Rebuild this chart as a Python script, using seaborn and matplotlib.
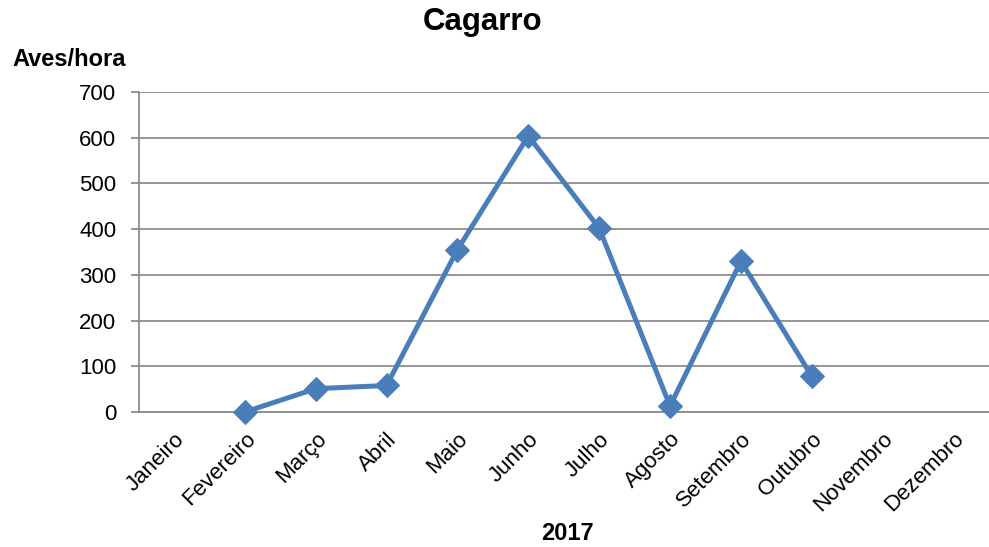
import numpy as np
import pandas as pd
import matplotlib
matplotlib.use("Agg")
import matplotlib.pyplot as plt
import seaborn as sns

months = ["Janeiro", "Fevereiro", "Março", "Abril", "Maio", "Junho",
          "Julho", "Agosto", "Setembro", "Outubro", "Novembro", "Dezembro"]
values = [np.nan, 0, 51, 58, 355, 604, 402, 13, 330, 78, np.nan, np.nan]
yticks = [0, 100, 200, 300, 400, 500, 600, 700]

sns.set_style("white")
plt.rcParams['font.family'] = ['Liberation Sans', 'DejaVu Sans']
plt.rcParams['text.color'] = 'black'
plt.rcParams['xtick.color'] = 'black'
plt.rcParams['ytick.color'] = 'black'

W, H = 989, 547
fig = plt.figure(figsize=(W / 100, H / 100), dpi=100)
ax = fig.add_axes([138.5 / W, 1 - 412 / H, (989 - 138.5) / W, (412 - 92) / H])

df = pd.DataFrame({"pos": np.arange(len(months)), "val": values}).dropna()
sns.lineplot(data=df, x="pos", y="val", ax=ax, color="#4A7EBB", linewidth=3.6,
             marker="D", markersize=12, markeredgecolor="#4A7EBB", zorder=3)
for ln in ax.lines:
    ln.set_clip_on(False)

grid_c = "#8C8C8C"
ax.set_xlim(-0.5, 11.38)
ax.set_ylim(0, 700)
ax.set_yticks(yticks)
ax.set_yticklabels([str(v) for v in yticks], fontsize=16, color="black")
ax.yaxis.grid(True, color=grid_c, linewidth=1.3)
ax.set_axisbelow(True)
ax.set_xticks(np.arange(len(months)))
ax.set_xticklabels(months, rotation=45, ha="right", va="top", rotation_mode="anchor",
                   fontsize=16, color="black")
ax.set_xticks(np.arange(len(months) + 1) - 0.5, minor=True)
ax.tick_params(axis="x", which="major", length=0, pad=12)
ax.tick_params(axis="x", which="minor", length=6, width=1.3, color=grid_c, direction="out")
ax.tick_params(axis="y", length=6, width=1.3, color=grid_c, direction="out", pad=10,
               left=True, labelcolor="black")
for s in ["top", "right"]:
    ax.spines[s].set_visible(False)
for s in ["left", "bottom"]:
    ax.spines[s].set_color(grid_c)
    ax.spines[s].set_linewidth(1.3)
ax.set_xlabel("")
ax.set_ylabel("")

fig.text(483 / W, 1 - 22 / H, "Cagarro", ha="center", va="center",
         fontsize=22.5, fontweight="bold", color="black")
fig.text(12 / W, 1 - 60 / H, "Aves/hora", ha="left", va="center",
         fontsize=17, fontweight="bold", color="black")
fig.text(567 / W, 1 - 533 / H, "2017", ha="center", va="center",
         fontsize=17, fontweight="bold", color="black")

fig.savefig("out.png", dpi=100)
